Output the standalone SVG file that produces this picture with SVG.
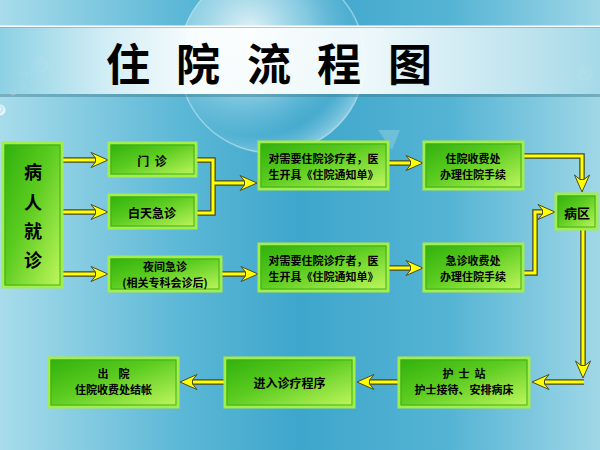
<svg xmlns="http://www.w3.org/2000/svg" xmlns:xlink="http://www.w3.org/1999/xlink" width="600" height="450" viewBox="0 0 600 450">
<defs>
<linearGradient id="bg" x1="0" y1="0" x2="1" y2="0">
<stop offset="0" stop-color="#a8dceb"/>
<stop offset="0.3" stop-color="#5cb8d6"/>
<stop offset="0.5" stop-color="#3ea6cc"/>
<stop offset="0.75" stop-color="#55b4d4"/>
<stop offset="1" stop-color="#9fd7e7"/>
</linearGradient>
<linearGradient id="band" x1="0" y1="0" x2="1" y2="0">
<stop offset="0" stop-color="#8ad0e3"/>
<stop offset="0.18" stop-color="#d8f0f7"/>
<stop offset="0.32" stop-color="#ffffff"/>
<stop offset="0.62" stop-color="#f6fcfd"/>
<stop offset="0.85" stop-color="#c8e8f1"/>
<stop offset="1" stop-color="#a6dae8"/>
</linearGradient>
<radialGradient id="big" cx="0.38" cy="0.35" r="0.7">
<stop offset="0" stop-color="#ffffff" stop-opacity="0.85"/>
<stop offset="0.45" stop-color="#bfe6f1" stop-opacity="0.55"/>
<stop offset="0.8" stop-color="#5fb8d6" stop-opacity="0.25"/>
<stop offset="1" stop-color="#e0f4fa" stop-opacity="0.5"/>
</radialGradient>
<radialGradient id="bub" cx="0.4" cy="0.4" r="0.6">
<stop offset="0" stop-color="#ffffff" stop-opacity="0.95"/>
<stop offset="0.6" stop-color="#d6f0f7" stop-opacity="0.6"/>
<stop offset="1" stop-color="#ffffff" stop-opacity="0.9"/>
</radialGradient>
<linearGradient id="g" x1="0" y1="0" x2="1" y2="1">
<stop offset="0" stop-color="#2fb00c"/>
<stop offset="0.45" stop-color="#5ccc20"/>
<stop offset="1" stop-color="#c2f85e"/>
</linearGradient>
<path id="ah" d="M0,0 L-17,-7.5 L-12.5,-2 L-12.5,2 L-17,7.5 Z" fill="#ffff00" stroke="#4a4a24" stroke-width="1" stroke-linejoin="miter"/>
<style>
.box{fill:url(#g);stroke:#a2ee4a;stroke-width:3}
.inner{fill:none;stroke:#3fae18;stroke-width:1}
.t{font-family:"Noto Sans CJK SC","Noto Sans",sans-serif;font-weight:bold;fill:#000;text-anchor:middle;dominant-baseline:central;font-size:12px}
.s{font-size:11px}
.big{font-size:18px}
.title{font-family:"Noto Sans CJK SC",sans-serif;font-weight:bold;font-size:44px;fill:#000;text-anchor:middle;dominant-baseline:central}
.sh{fill:none;stroke:#4a4a24;stroke-width:5.5;stroke-linejoin:miter}
.sy{fill:none;stroke:#ffff00;stroke-width:3;stroke-linejoin:miter}
</style>
</defs>
<rect width="600" height="450" fill="url(#bg)"/>
<circle cx="272" cy="60" r="93" fill="url(#big)" stroke="#e6f6fb" stroke-opacity="0.45" stroke-width="1.5"/>
<path d="M378,130 L400,130 L392,150 Z" fill="#ffffff" opacity="0.2"/>
<g id="bubbles">
<circle cx="40" cy="65" r="8" fill="url(#bub)" stroke="#ffffff" stroke-opacity="0.6"/>
<circle cx="23" cy="74" r="4.5" fill="url(#bub)" stroke="#ffffff" stroke-opacity="0.6"/>
<circle cx="23" cy="86" r="3" fill="url(#bub)" stroke="#ffffff" stroke-opacity="0.6"/>
<circle cx="13" cy="92" r="3" fill="url(#bub)" stroke="#ffffff" stroke-opacity="0.6"/>
<circle cx="0" cy="110" r="5" fill="url(#bub)" stroke="#ffffff" stroke-opacity="0.6"/>
<circle cx="585" cy="73" r="8" fill="url(#bub)" stroke="#ffffff" stroke-opacity="0.6"/>
</g>
<g id="title">
<rect x="0" y="94" width="600" height="3" fill="#3e7a8c" opacity="0.45"/>
<rect x="0" y="27" width="600" height="67" fill="url(#band)" fill-opacity="0.94"/>
<rect x="0" y="25.5" width="600" height="1.5" fill="#ffffff"/>
<rect x="0" y="27" width="600" height="1" fill="#7aaab8" opacity="0.6"/>
<text class="title" x="128" y="62">住</text>
<text class="title" x="198" y="62">院</text>
<text class="title" x="269" y="62">流</text>
<text class="title" x="339" y="62">程</text>
<text class="title" x="410" y="62">图</text>
</g>
<g id="connectors">
<path class="sh" d="M63,160 H96 M63,212 H96 M63,274 H96 M197,160 H213 V213 H197 M213,183 H245 M222,274 H246 M389,163 H411 M389,268 H411 M524,156 H582 V180 M524,273 H535 V212 H543 M583,230 V366 M584,382 H545 M398,382 H370 M224,382 H193"/>
<path class="sy" d="M63,160 H96 M63,212 H96 M63,274 H96 M197,160 H213 V213 H197 M213,183 H245 M222,274 H246 M389,163 H411 M389,268 H411 M524,156 H582 V180 M524,273 H535 V212 H543 M583,230 V366 M584,382 H545 M398,382 H370 M224,382 H193"/>
<use xlink:href="#ah" transform="translate(108,160)"/>
<use xlink:href="#ah" transform="translate(108,212)"/>
<use xlink:href="#ah" transform="translate(108,274)"/>
<use xlink:href="#ah" transform="translate(257,183)"/>
<use xlink:href="#ah" transform="translate(258,274)"/>
<use xlink:href="#ah" transform="translate(423,163)"/>
<use xlink:href="#ah" transform="translate(423,268)"/>
<use xlink:href="#ah" transform="translate(582,192) rotate(90)"/>
<use xlink:href="#ah" transform="translate(555,212)"/>
<use xlink:href="#ah" transform="translate(583,378) rotate(90)"/>
<use xlink:href="#ah" transform="translate(532,382) rotate(180)"/>
<use xlink:href="#ah" transform="translate(357,382) rotate(180)"/>
<use xlink:href="#ah" transform="translate(180,382) rotate(180)"/>
</g>
<g id="patient">
<rect class="box" x="3" y="143" width="59" height="144"/>
<rect class="inner" x="5" y="145" width="55" height="140"/>
<text class="t big" x="33" y="171">病</text>
<text class="t big" x="33" y="201">人</text>
<text class="t big" x="33" y="230">就</text>
<text class="t big" x="33" y="259">诊</text>
</g>
<g id="menzhen">
<rect class="box" x="109" y="143" width="87" height="33"/>
<rect class="inner" x="111" y="145" width="83" height="29"/>
<text class="t" x="152" y="160" xml:space="preserve">门  诊</text>
</g>
<g id="baitian">
<rect class="box" x="109" y="195" width="87" height="33"/>
<rect class="inner" x="111" y="197" width="83" height="29"/>
<text class="t" x="152" y="212">白天急诊</text>
</g>
<g id="yejian">
<rect class="box" x="109" y="257" width="112" height="34"/>
<rect class="inner" x="111" y="259" width="108" height="30"/>
<text class="t s" x="165" y="266">夜间急诊</text>
<text class="t s" x="165" y="282">(相关专科会诊后)</text>
</g>
<g id="tongzhi1">
<rect class="box" x="259" y="142" width="129" height="47"/>
<rect class="inner" x="261" y="144" width="125" height="43"/>
<text class="t s" x="323.5" y="158">对需要住院诊疗者，医</text>
<text class="t s" x="323.5" y="173.5">生开具《住院通知单》</text>
</g>
<g id="shoufei1">
<rect class="box" x="424" y="142" width="99" height="47"/>
<rect class="inner" x="426" y="144" width="95" height="43"/>
<text class="t s" x="473" y="158">住院收费处</text>
<text class="t s" x="473" y="174">办理住院手续</text>
</g>
<g id="tongzhi2">
<rect class="box" x="259" y="244" width="129" height="47"/>
<rect class="inner" x="261" y="246" width="125" height="43"/>
<text class="t s" x="323.5" y="260">对需要住院诊疗者，医</text>
<text class="t s" x="323.5" y="275.5">生开具《住院通知单》</text>
</g>
<g id="shoufei2">
<rect class="box" x="424" y="244" width="99" height="47"/>
<rect class="inner" x="426" y="246" width="95" height="43"/>
<text class="t s" x="473" y="260">急诊收费处</text>
<text class="t s" x="473" y="276">办理住院手续</text>
</g>
<g id="bingqu">
<rect class="box" x="556" y="194" width="41" height="35"/>
<rect class="inner" x="558" y="196" width="37" height="31"/>
<text class="t" x="577" y="212" style="font-size:13px">病区</text>
</g>
<g id="hushizhan">
<rect class="box" x="399" y="358" width="130" height="49"/>
<rect class="inner" x="401" y="360" width="126" height="45"/>
<text class="t s" x="464" y="373" xml:space="preserve">护  士  站</text>
<text class="t s" x="464" y="389">护士接待、安排病床</text>
</g>
<g id="jinru">
<rect class="box" x="225" y="358" width="129" height="49"/>
<rect class="inner" x="227" y="360" width="125" height="45"/>
<text class="t" x="289.5" y="382">进入诊疗程序</text>
</g>
<g id="chuyuan">
<rect class="box" x="49" y="358" width="129" height="49"/>
<rect class="inner" x="51" y="360" width="125" height="45"/>
<text class="t s" x="113.5" y="373" xml:space="preserve">出    院</text>
<text class="t s" x="113.5" y="389">住院收费处结帐</text>
</g>
</svg>
